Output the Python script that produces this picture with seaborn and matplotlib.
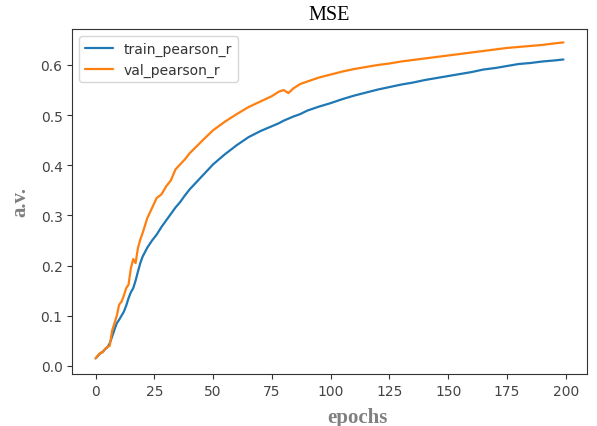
import pandas
import matplotlib
matplotlib.use('Agg')
import matplotlib.pyplot as plt
import seaborn as sns

epochs = [0, 1, 2, 3, 4, 5, 6, 7, 8, 9, 10, 11, 12, 13, 14, 15, 16, 17, 18, 19,
          20, 22, 24, 26, 28, 30, 32, 34, 36, 38, 40, 43, 46, 50, 55, 60, 65, 70,
          75, 78, 80, 82, 84, 87, 90, 95, 100, 105, 110, 115, 120, 125, 130, 135,
          140, 145, 150, 155, 160, 165, 170, 175, 180, 185, 190, 195, 199]

train_pearson_r = [0.015, 0.020, 0.025, 0.028, 0.033, 0.037, 0.045, 0.058, 0.072, 0.085,
                   0.092, 0.100, 0.108, 0.120, 0.135, 0.147, 0.155, 0.170, 0.188, 0.205,
                   0.218, 0.236, 0.250, 0.262, 0.277, 0.290, 0.303, 0.316, 0.327, 0.340,
                   0.352, 0.367, 0.382, 0.402, 0.422, 0.440, 0.456, 0.468, 0.478, 0.484,
                   0.489, 0.493, 0.497, 0.502, 0.509, 0.517, 0.524, 0.532, 0.539, 0.545,
                   0.551, 0.556, 0.561, 0.565, 0.570, 0.574, 0.578, 0.582, 0.586, 0.591,
                   0.594, 0.598, 0.602, 0.604, 0.607, 0.609, 0.611]

val_pearson_r = [0.015, 0.021, 0.026, 0.027, 0.034, 0.038, 0.040, 0.070, 0.085, 0.100,
                 0.122, 0.128, 0.140, 0.155, 0.162, 0.195, 0.213, 0.205, 0.235, 0.252,
                 0.265, 0.295, 0.315, 0.335, 0.342, 0.358, 0.370, 0.392, 0.402, 0.412,
                 0.424, 0.438, 0.452, 0.470, 0.487, 0.502, 0.516, 0.527, 0.538, 0.547,
                 0.550, 0.544, 0.553, 0.562, 0.567, 0.575, 0.581, 0.587, 0.592, 0.596,
                 0.600, 0.603, 0.607, 0.610, 0.613, 0.616, 0.619, 0.622, 0.625, 0.628,
                 0.631, 0.634, 0.636, 0.638, 0.640, 0.643, 0.645]

# long form for seaborn
data = pandas.DataFrame({
    'epoch': epochs * 2,
    'value': train_pearson_r + val_pearson_r,
    'metric': ['train_pearson_r'] * len(epochs) + ['val_pearson_r'] * len(epochs),
})

sns.set_style('ticks')
fig = plt.figure(figsize=(5.97, 4.27), dpi=100)
ax = fig.add_axes([0.121, 0.122, 0.862, 0.808])

sns.lineplot(data=data, x='epoch', y='value', hue='metric',
             palette=['#1f77b4', '#ff7f0e'], linewidth=1.6, ax=ax)

ax.set_xticks([0, 25, 50, 75, 100, 125, 150, 175, 200])
ax.set_yticks([0.0, 0.1, 0.2, 0.3, 0.4, 0.5, 0.6])
ax.set_ylim(-0.016, 0.672)
ax.tick_params(labelsize=10, colors='#333333', labelcolor='#444444')
for side in ax.spines.values():
    side.set_color('#333333')

ax.set_title('MSE', family='Liberation Serif', fontsize=14.5, color='black', pad=7)
ax.set_xlabel('epochs', family='Liberation Serif', fontweight='bold', fontsize=15,
              color='#808080')
ax.xaxis.set_label_coords(0.555, -0.096)
ax.set_ylabel('a.v.', family='Liberation Serif', fontweight='bold', fontsize=15,
              color='#808080', labelpad=7)

leg = ax.legend(loc='upper left', fontsize=10, title=None, frameon=True)
for t in leg.get_texts():
    t.set_color('#333333')

fig.savefig('out.png', dpi=100)
